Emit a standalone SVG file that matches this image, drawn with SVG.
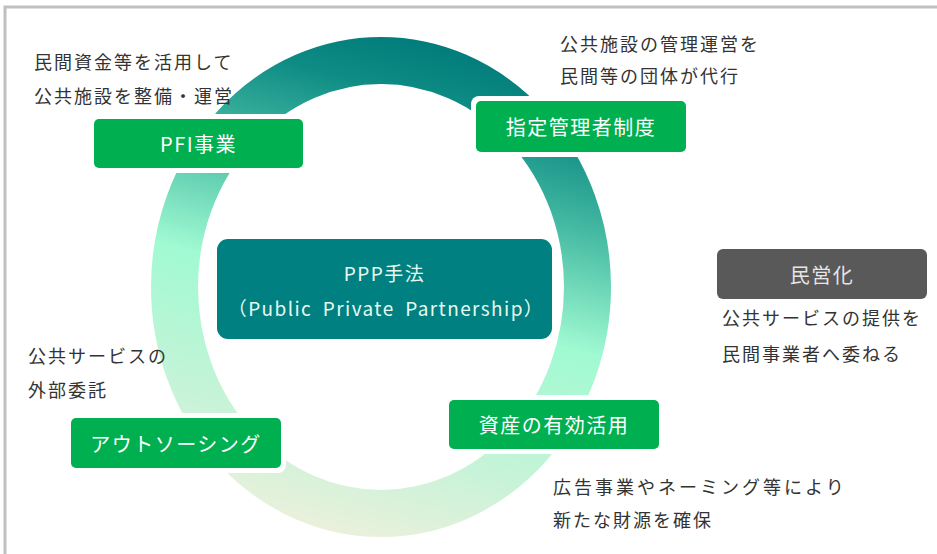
<svg xmlns="http://www.w3.org/2000/svg" width="937" height="554" viewBox="0 0 937 554">
<style>
  text { font-family: "Noto Sans CJK JP", "Noto Sans", sans-serif; }
  .note { font-size: 18px; fill: #333333; letter-spacing: 2px; }
  .lbl { font-size: 20px; fill: #ffffff; letter-spacing: 1.5px; text-anchor: middle; dominant-baseline: central; }
  .box { fill: #00b050; }
  .halo { fill: #ffffff; }
</style>
<defs>
  <linearGradient id="ringGrad" gradientUnits="userSpaceOnUse" x1="450" y1="40" x2="320" y2="540">
    <stop offset="0" stop-color="#007a7a"/>
    <stop offset="0.12" stop-color="#0e8c84"/>
    <stop offset="0.3" stop-color="#48bca4"/>
    <stop offset="0.52" stop-color="#a0fad2"/>
    <stop offset="0.8" stop-color="#c8f3d8"/>
    <stop offset="1" stop-color="#eef0dc"/>
  </linearGradient>
</defs>
<rect x="0" y="0" width="937" height="554" fill="#ffffff"/>
<rect x="5" y="7" width="940" height="560" fill="none" stroke="#c0c0c0" stroke-width="3"/>

<g id="connectors">
  <ellipse cx="381" cy="287" rx="206.5" ry="226.5" fill="none" stroke="url(#ringGrad)" stroke-width="47"/>
</g>

<g id="center-ppp">
  <rect x="217" y="239" width="335" height="100" rx="11" fill="#008080"/>
  <text x="384.5" y="272" font-size="19" fill="#e6faf2" text-anchor="middle" dominant-baseline="central" letter-spacing="1.5">PPP手法</text>
  <text x="386" y="307" font-size="19" fill="#e6faf2" text-anchor="middle" dominant-baseline="central" letter-spacing="1.4" word-spacing="5">（Public Private Partnership）</text>
</g>

<g id="pfi">
  <rect class="halo" x="89" y="114" width="219" height="59" rx="8"/>
  <rect class="box" x="94" y="119" width="209" height="49" rx="5"/>
  <text class="lbl" x="198.5" y="143.5">PFI事業</text>
  <text class="note" x="34" y="69">民間資金等を活用して</text>
  <text class="note" x="34" y="103">公共施設を整備・運営</text>
</g>

<g id="shitei">
  <rect class="halo" x="471" y="96" width="220" height="61" rx="8"/>
  <rect class="box" x="476" y="101" width="210" height="51" rx="5"/>
  <text class="lbl" x="581" y="126.5">指定管理者制度</text>
  <text class="note" x="560" y="51">公共施設の管理運営を</text>
  <text class="note" x="560" y="83">民間等の団体が代行</text>
</g>

<g id="shisan">
  <rect class="halo" x="444" y="395" width="220" height="59" rx="8"/>
  <rect class="box" x="449" y="400" width="210" height="49" rx="5"/>
  <text class="lbl" x="554" y="424.5">資産の有効活用</text>
  <text class="note" x="553" y="494" style="letter-spacing:3px">広告事業やネーミング等により</text>
  <text class="note" x="553" y="527">新たな財源を確保</text>
</g>

<g id="outsourcing">
  <rect class="halo" x="66" y="413" width="220" height="60" rx="8"/>
  <rect class="box" x="71" y="418" width="210" height="50" rx="5"/>
  <text class="lbl" x="176" y="443">アウトソーシング</text>
  <text class="note" x="28" y="363">公共サービスの</text>
  <text class="note" x="28" y="397">外部委託</text>
</g>

<g id="mineika">
  <rect x="717" y="249" width="210" height="50" rx="6" fill="#595959"/>
  <text class="lbl" x="822" y="274" style="fill:#e6e6e6">民営化</text>
  <text class="note" x="722" y="325">公共サービスの提供を</text>
  <text class="note" x="722" y="361">民間事業者へ委ねる</text>
</g>
</svg>
